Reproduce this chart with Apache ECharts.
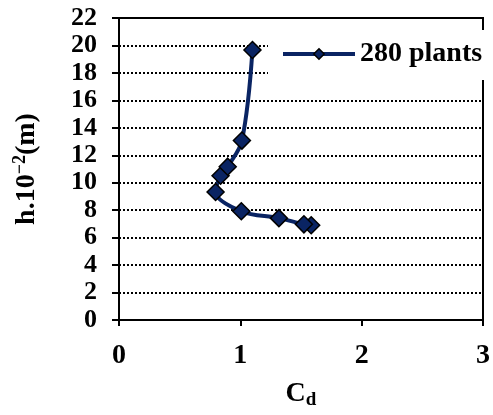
<!DOCTYPE html>
<html>
<head>
<meta charset="utf-8">
<script src="https://cdn.jsdelivr.net/npm/echarts@6/dist/echarts.min.js"></script>
<style>html,body{margin:0;padding:0;background:#fff}#c{width:493px;height:415px}</style>
</head>
<body>
<div id="c"></div>
<script>
var seriesName = '280 plants';
var cdValues = [1.584, 1.524, 1.318, 1.008, 0.796, 0.837, 0.896, 1.013, 1.10];
var hValues  = [6.90, 6.97, 7.42, 7.92, 9.32, 10.51, 11.17, 13.07, 19.67];
var xTicks = [0, 1, 2, 3];
var yTicks = [0, 2, 4, 6, 8, 10, 12, 14, 16, 18, 20, 22];

var FONT = '"Liberation Serif", "Times New Roman", serif';
var points = cdValues.map(function (x, i) { return [x, hValues[i]]; });
var chart = echarts.init(document.getElementById('c'));
chart.setOption({
  backgroundColor: '#fff',
  animation: false,
  grid: { left: 119, right: 6, top: 18, bottom: 88, show: true, borderColor: '#000', borderWidth: 2, backgroundColor: 'transparent' },
  graphic: [{
    type: 'rect', z: 1, silent: true,
    shape: { x: 268, y: 30, width: 217, height: 50 },
    style: { fill: '#fff' }
  }],
  legend: {
    data: [seriesName],
    left: 267, top: 28,
    padding: [12, 0, 12, 14],
    itemWidth: 72, itemHeight: 13,
    lineStyle: { width: 4, color: '#0a2463' },
    itemStyle: { color: '#0a2463', borderColor: '#000', borderWidth: 1.5 },
    textStyle: { fontFamily: FONT, fontWeight: 'bold', fontSize: 28, color: '#000' }
  },
  xAxis: {
    type: 'value', min: xTicks[0], max: xTicks[xTicks.length - 1], interval: 1,
    name: '{c|C}{d|d}', nameLocation: 'middle', nameGap: 58,
    nameTextStyle: {
      rich: {
        c: { fontFamily: FONT, fontWeight: 'bold', fontSize: 28, color: '#000', lineHeight: 32 },
        d: { fontFamily: FONT, fontWeight: 'bold', fontSize: 19, color: '#000', lineHeight: 20, verticalAlign: 'bottom' }
      }
    },
    axisLine: { lineStyle: { color: '#000', width: 2 } },
    axisTick: { show: true, length: 6, lineStyle: { color: '#000', width: 2 } },
    axisLabel: { margin: 22, fontFamily: FONT, fontWeight: 'bold', fontSize: 28, color: '#000' },
    splitLine: { show: false }
  },
  yAxis: {
    type: 'value', min: yTicks[0], max: yTicks[yTicks.length - 1], interval: 2,
    name: '{n|h.10}{s|\u22122}{n|(m)}', nameLocation: 'middle', nameGap: 76, nameRotate: 90,
    nameTextStyle: {
      rich: {
        n: { fontFamily: FONT, fontWeight: 'bold', fontSize: 28, color: '#000', lineHeight: 32 },
        s: { fontFamily: FONT, fontWeight: 'bold', fontSize: 18, color: '#000', lineHeight: 18, verticalAlign: 'top' }
      }
    },
    axisLine: { show: true, lineStyle: { color: '#000', width: 2 } },
    axisTick: { show: true, length: 7, lineStyle: { color: '#000', width: 2 } },
    axisLabel: { margin: 22, fontFamily: FONT, fontWeight: 'bold', fontSize: 26, color: '#000' },
    splitLine: { show: true, lineStyle: { color: '#000', width: 2, type: [2, 2] } }
  },
  series: [{
    name: seriesName,
    type: 'line',
    data: points,
    smooth: 0.35,
    symbol: 'diamond',
    symbolSize: 17,
    lineStyle: { color: '#0a2463', width: 4 },
    itemStyle: { color: '#0a2463', borderColor: '#000', borderWidth: 1.5 }
  }]
});
</script>
</body>
</html>
